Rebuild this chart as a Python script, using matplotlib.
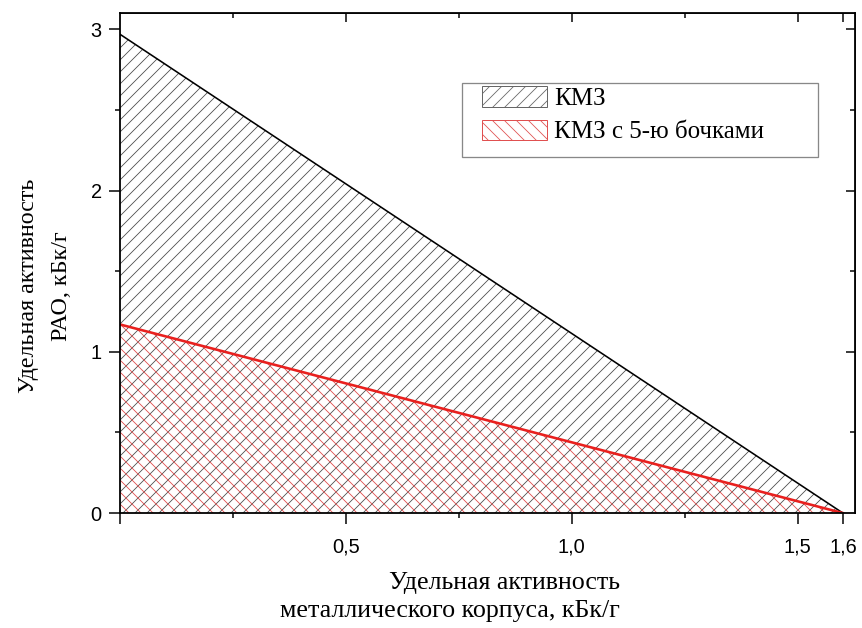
import matplotlib.pyplot as plt
from matplotlib.patches import Patch, Rectangle
import numpy as np

plt.rcParams['font.family'] = ['Liberation Serif', 'DejaVu Serif']
plt.rcParams['hatch.linewidth'] = 0.8

# данные: границы областей
x_pts = [0.0, 1.6]
kmz = [2.97, 0.0]
kmz5 = [1.17, 0.0]

x_ticks = [0.0, 0.5, 1.0, 1.5, 1.6]
x_labels = ['', '0,5', '1,0', '1,5', '1,6']
y_ticks = [0, 1, 2, 3]
y_labels = ['0', '1', '2', '3']

W, H = 862, 628
dpi = 72
fig = plt.figure(figsize=(W / dpi, H / dpi), dpi=dpi)
ax = fig.add_axes([0.139, 0.183, 0.853, 0.796])

ax.fill_between(x_pts, 0, kmz, facecolor='none', edgecolor='#4a4a4a',
                linewidth=0, hatch='//')
ax.fill_between(x_pts, 0, kmz5, facecolor='none', edgecolor='#e04848',
                linewidth=0, hatch='\\\\')
ax.plot(x_pts, kmz, color='black', lw=1.6)
ax.plot(x_pts, kmz5, color='#e8201e', lw=2.6)

ax.set_xlim(0, 1.627)
ax.set_ylim(0, 3.1)
ax.set_xticks(x_ticks)
ax.set_xticklabels(x_labels, family='Liberation Sans', fontsize=20)
ax.set_yticks(y_ticks)
ax.set_yticklabels(y_labels, family='Liberation Sans', fontsize=20)
ax.set_xticks([0.25, 0.75, 1.25], minor=True)
ax.set_yticks([0.5, 1.5, 2.5], minor=True)
ax.tick_params(which='both', direction='out', width=1.5, top=False, right=False)
ax.tick_params(which='major', length=11)
ax.tick_params(which='minor', length=5)
ax.tick_params(axis='x', which='major', pad=13)
ax.tick_params(axis='y', which='major', pad=7)
for s in ax.spines.values():
    s.set_linewidth(1.8)

# внутренние засечки на верхней и правой осях
sec = ax.secondary_xaxis('top')
sec.set_xticks(x_ticks[1:])
sec.set_xticks([0.25, 0.75, 1.25], minor=True)
sec.tick_params(which='both', direction='in', labeltop=False, width=1.5)
sec.tick_params(which='major', length=9)
sec.tick_params(which='minor', length=5)
secy = ax.secondary_yaxis('right')
secy.set_yticks(y_ticks[1:])
secy.set_yticks([0.5, 1.5, 2.5], minor=True)
secy.tick_params(which='both', direction='in', labelright=False, width=1.5)
secy.tick_params(which='major', length=9)
secy.tick_params(which='minor', length=5)

fig.text(620 / W, 1 - 597 / H,
         'Удельная активность\nметаллического корпуса, кБк/г',
         fontsize=26, ha='right', va='center', multialignment='right',
         linespacing=1.4)
fig.text(45 / W, 1 - 286 / H, 'Удельная активность\nРАО, кБк/г',
         fontsize=24, rotation=90, ha='center', va='center',
         multialignment='center', linespacing=1.75)

# рамка легенды
fig.patches.append(Rectangle((462 / W, 1 - 157 / H), 356 / W, 74 / H,
                             transform=fig.transFigure, facecolor='white',
                             edgecolor='#888888', lw=1.3, zorder=3))
handles = [Patch(facecolor='white', edgecolor='#666666', hatch='//'),
           Patch(facecolor='white', edgecolor='#e05050', hatch='\\\\')]
leg = fig.legend(handles, ['КМЗ', 'КМЗ с 5-ю бочками'], loc='upper left',
                 bbox_to_anchor=(482 / W, 1 - 86 / H), fontsize=25,
                 frameon=False, handlelength=2.6, handleheight=0.9,
                 borderpad=0, labelspacing=0.38, handletextpad=0.3,
                 borderaxespad=0)
leg.set_zorder(4)

fig.savefig('out.png', dpi=dpi)
